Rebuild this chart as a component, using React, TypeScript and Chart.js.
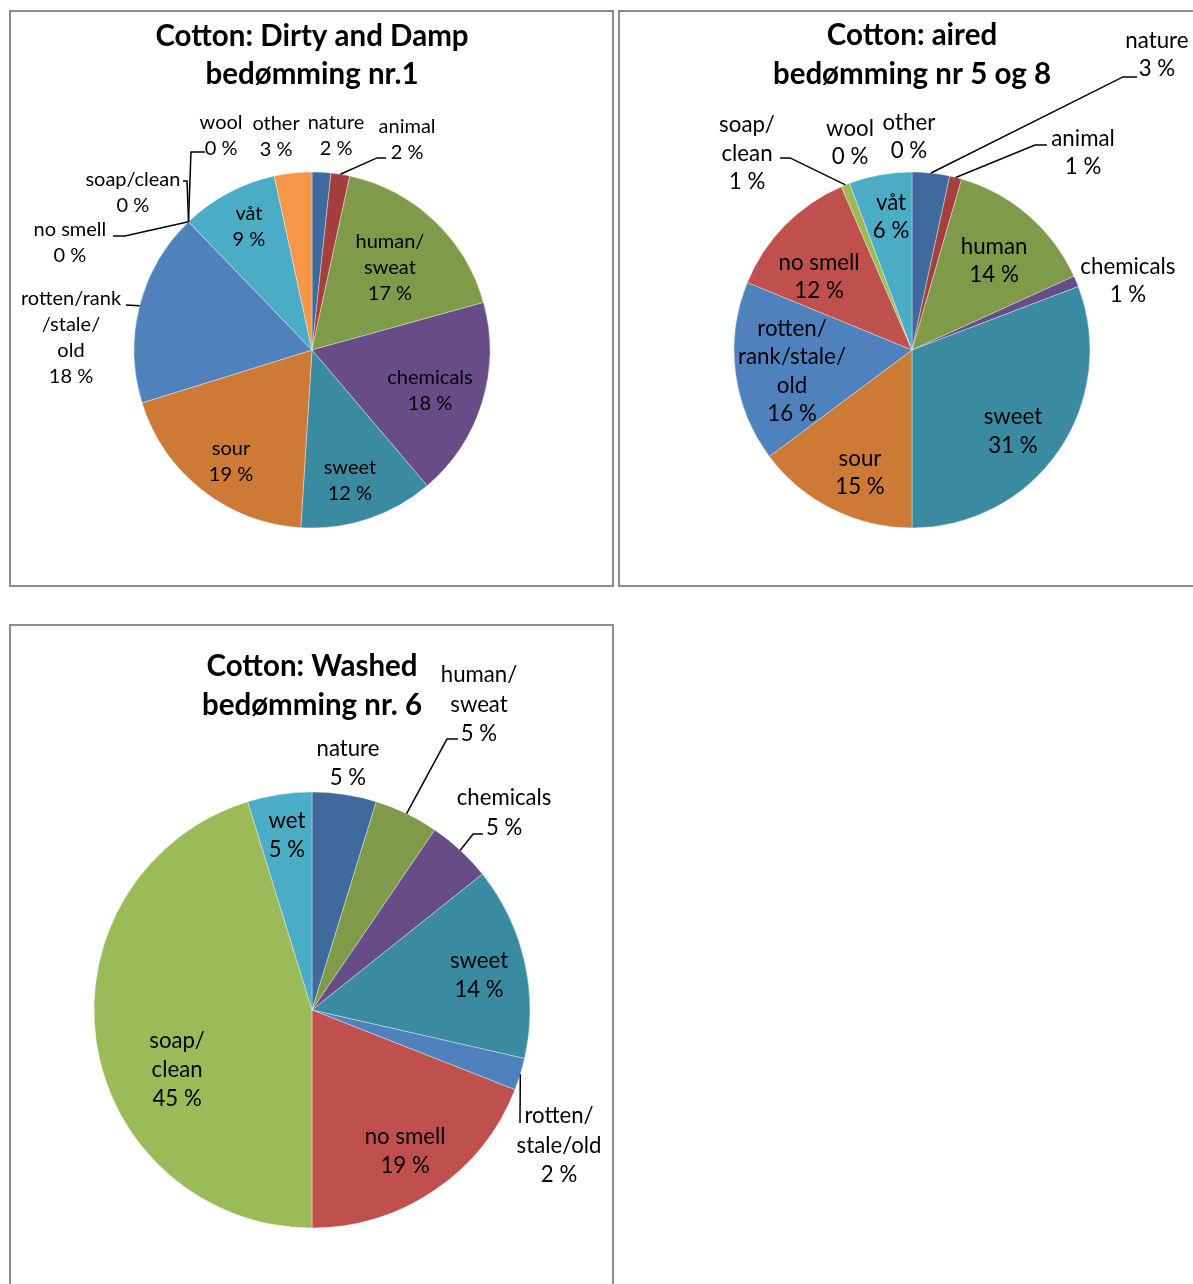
import React, { useEffect, useRef } from 'react';
import { Chart, registerables } from 'chart.js';

Chart.register(...registerables);

// ---------- Chart 1: Cotton: Dirty and Damp ----------
const dirtyCategories = ['nature', 'animal', 'human/\nsweat', 'chemicals', 'sweet', 'sour', 'rotten/rank\n/stale/\nold', 'no smell', 'soap/clean', 'wool', 'våt', 'other'];
const dirtyValues = [1.7, 1.7, 17.3, 18.1, 12.2, 19.2, 17.6, 0, 0, 0, 8.8, 3.4];
const dirtyColors = ['#3E6A9D', '#A3403E', '#7F9A48', '#684C87', '#3A8BA2', '#CD7A37', '#4F81BD', '#C0504D', '#9BBB59', '#8064A2', '#4BACC6', '#F79646'];
const dirtyTitle = ['Cotton: Dirty and Damp', 'bedømming nr.1'];

// ---------- Chart 2: Cotton: aired ----------
const airedCategories = ['nature', 'animal', 'human', 'chemicals', 'sweet', 'sour', 'rotten/\nrank/stale/\nold', 'no smell', 'soap/\nclean', 'wool', 'other', 'våt'];
const airedValues = [3.4, 1.1, 13.7, 1.0, 30.8, 14.8, 16.4, 12.3, 0.8, 0, 0, 5.7];
const airedColors = ['#3E6A9D', '#A3403E', '#7F9A48', '#684C87', '#3A8BA2', '#CD7A37', '#4F81BD', '#C0504D', '#9BBB59', '#8064A2', '#F79646', '#4BACC6'];
const airedTitle = ['Cotton: aired', 'bedømming nr 5 og 8'];

// ---------- Chart 3: Cotton: Washed ----------
const washedCategories = ['nature', 'human/\nsweat', 'chemicals', 'sweet', 'rotten/\nstale/old', 'no smell', 'soap/\nclean', 'wet'];
const washedValues = [2, 2, 2, 6, 1, 8, 19, 2];
const washedColors = ['#3E6A9D', '#7F9A48', '#684C87', '#3A8BA2', '#4F81BD', '#C0504D', '#9BBB59', '#4BACC6'];
const washedTitle = ['Cotton: Washed', 'bedømming nr. 6'];

// label placement (units of radius, relative to pie centre); leaders end on slice mid-angle edge
type Placement = { pos: [number, number]; leader?: [number, number][] };

const dirtyPlace: Placement[] = [
  { pos: [0.135, -1.205] },
  { pos: [0.534, -1.185], leader: [[0.416, -1.079], [0.365, -1.079]] },
  { pos: [0.438, -0.461] },
  { pos: [0.663, 0.230] },
  { pos: [0.213, 0.736] },
  { pos: [-0.455, 0.624] },
  { pos: [-1.354, -0.070], leader: [[-1.045, -0.253]] },
  { pos: [-1.360, -0.601], leader: [[-1.118, -0.640], [-1.051, -0.640]] },
  { pos: [-1.006, -0.882], leader: [[-0.725, -0.949], [-0.702, -0.949]] },
  { pos: [-0.511, -1.205], leader: [[-0.601, -1.112], [-0.680, -1.112]] },
  { pos: [-0.354, -0.694] },
  { pos: [-0.202, -1.197] },
];

const airedPlace: Placement[] = [
  { pos: [1.376, -1.657], leader: [[1.264, -1.534], [1.185, -1.534]] },
  { pos: [0.961, -1.107], leader: [[0.758, -1.152], [0.691, -1.152]] },
  { pos: [0.461, -0.500] },
  { pos: [1.213, -0.388] },
  { pos: [0.567, 0.458] },
  { pos: [-0.292, 0.691] },
  { pos: [-0.674, 0.121] },
  { pos: [-0.522, -0.410] },
  { pos: [-0.927, -1.105], leader: [[-0.742, -1.079], [-0.685, -1.079]] },
  { pos: [-0.348, -1.163] },
  { pos: [-0.017, -1.197] },
  { pos: [-0.118, -0.747] },
];

const washedPlace: Placement[] = [
  { pos: [0.165, -1.130] },
  { pos: [0.766, -1.402], leader: [[0.670, -1.243], [0.619, -1.243]] },
  { pos: [0.881, -0.904], leader: [[0.784, -0.807], [0.739, -0.807]] },
  { pos: [0.766, -0.158] },
  { pos: [1.133, 0.622], leader: [[0.954, 0.518]] },
  { pos: [0.427, 0.649] },
  { pos: [-0.619, 0.275] },
  { pos: [-0.115, -0.800] },
];

type PieCfg = {
  categories: string[];
  values: number[];
  colors: string[];
  title: string[];
  place: Placement[];
  w: number;
  h: number;
  cx: number;
  cy: number;
  radius: number;
  titleY: number[];
  titleSize: number;
  labelSize: number;
  lineH: number;
};

const FONT = 'Lato, "Open Sans", sans-serif';

function PieChart({ cfg }: { cfg: PieCfg }) {
  const ref = useRef<HTMLCanvasElement>(null);
  useEffect(() => {
    const half = Math.min(cfg.cx, cfg.w - cfg.cx, cfg.cy, cfg.h - cfg.cy);
    const labelPlugin = {
      id: 'pieLabels',
      afterDatasetsDraw(chart: any) {
        const ctx = chart.ctx as CanvasRenderingContext2D;
        const meta = chart.getDatasetMeta(0);
        const a0 = meta.data[0] as any;
        const cx = a0.x;
        const cy = a0.y;
        const R = a0.outerRadius;
        const total = cfg.values.reduce((s, v) => s + v, 0);
        ctx.save();
        ctx.fillStyle = '#000';
        ctx.textAlign = 'center';
        ctx.textBaseline = 'middle';
        ctx.font = `bold ${cfg.titleSize}px ${FONT}`;
        cfg.title.forEach((t, i) => ctx.fillText(t, cx, cfg.titleY[i]));
        ctx.font = `${cfg.labelSize}px ${FONT}`;
        ctx.strokeStyle = '#000';
        ctx.lineWidth = 1.5;
        cfg.values.forEach((v, i) => {
          const p = cfg.place[i];
          const lines = [...cfg.categories[i].split('\n'), `${Math.round((v / total) * 100)} %`];
          const x = cx + p.pos[0] * R;
          const y = cy + p.pos[1] * R;
          lines.forEach((ln, k) => ctx.fillText(ln, x, y + (k - (lines.length - 1) / 2) * cfg.lineH));
          if (p.leader) {
            const arc = meta.data[i] as any;
            const mid = (arc.startAngle + arc.endAngle) / 2;
            ctx.beginPath();
            p.leader.forEach((pt, k) => {
              const px = cx + pt[0] * R;
              const py = cy + pt[1] * R;
              if (k === 0) ctx.moveTo(px, py);
              else ctx.lineTo(px, py);
            });
            ctx.lineTo(cx + Math.cos(mid) * R, cy + Math.sin(mid) * R);
            ctx.stroke();
          }
        });
        ctx.restore();
      },
    };
    const chart = new Chart(ref.current as HTMLCanvasElement, {
      type: 'pie',
      data: {
        labels: cfg.categories,
        datasets: [
          {
            data: cfg.values,
            backgroundColor: cfg.colors,
            borderColor: 'rgba(255,255,255,0.45)',
            borderWidth: 0.8,
          },
        ],
      },
      options: {
        responsive: false,
        animation: false,
        devicePixelRatio: 1,
        radius: cfg.radius,
        layout: {
          padding: {
            left: cfg.cx - half,
            right: cfg.w - cfg.cx - half,
            top: cfg.cy - half,
            bottom: cfg.h - cfg.cy - half,
          },
        },
        plugins: {
          legend: { display: false },
          title: { display: false },
          tooltip: { enabled: false },
        },
        events: [],
      } as any,
      plugins: [labelPlugin],
    });
    return () => chart.destroy();
  }, [cfg]);
  return <canvas ref={ref} width={cfg.w} height={cfg.h} style={{ display: 'block', width: cfg.w, height: cfg.h }} />;
}

const panelStyle = (left: number, top: number, w: number, h: number): React.CSSProperties => ({
  position: 'absolute',
  left,
  top,
  width: w,
  height: h,
  border: '2px solid #8C8C8C',
  boxSizing: 'border-box',
  background: '#fff',
  overflow: 'hidden',
});

const cfg1: PieCfg = {
  categories: dirtyCategories, values: dirtyValues, colors: dirtyColors, title: dirtyTitle, place: dirtyPlace,
  w: 601, h: 573, cx: 301, cy: 338, radius: 178, titleY: [24, 62], titleSize: 29.5, labelSize: 20, lineH: 26,
};
const cfg2: PieCfg = {
  categories: airedCategories, values: airedValues, colors: airedColors, title: airedTitle, place: airedPlace,
  w: 600, h: 573, cx: 292, cy: 338, radius: 178, titleY: [23, 62], titleSize: 29.5, labelSize: 22.3, lineH: 28.5,
};
const cfg3: PieCfg = {
  categories: washedCategories, values: washedValues, colors: washedColors, title: washedTitle, place: washedPlace,
  w: 601, h: 660, cx: 301, cy: 384, radius: 218, titleY: [40, 79], titleSize: 29.5, labelSize: 22.2, lineH: 29.3,
};

export default function App() {
  return (
    <div style={{ position: 'absolute', left: 0, top: 0, width: 1193, height: 1284, overflow: 'hidden', background: '#fff' }}>
      <div style={panelStyle(9, 10, 605, 577)}>
        <PieChart cfg={cfg1} />
      </div>
      <div style={panelStyle(618, 10, 610, 577)}>
        <PieChart cfg={cfg2} />
      </div>
      <div style={panelStyle(9, 624, 605, 700)}>
        <PieChart cfg={cfg3} />
      </div>
    </div>
  );
}
